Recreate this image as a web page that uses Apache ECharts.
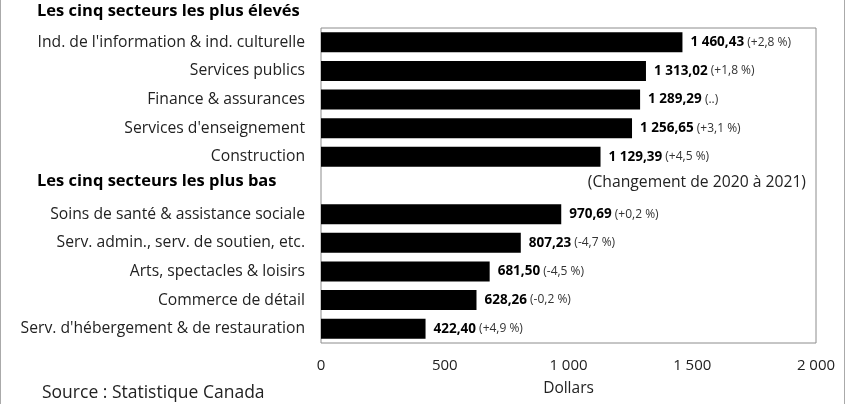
<!DOCTYPE html>
<html><head><meta charset="utf-8">
<script src="https://cdn.jsdelivr.net/npm/echarts@6/dist/echarts.min.js"></script>
<style>html,body{margin:0;padding:0;background:#fff;}#c{width:852px;height:404px;}</style>
</head><body><div id="c"></div>
<script>
var categories = [
  "Ind. de l'information & ind. culturelle",
  "Services publics",
  "Finance & assurances",
  "Services d'enseignement",
  "Construction",
  "",
  "Soins de santé & assistance sociale",
  "Serv. admin., serv. de soutien, etc.",
  "Arts, spectacles & loisirs",
  "Commerce de détail",
  "Serv. d'hébergement & de restauration"
];
var values = [1460.43, 1313.02, 1289.29, 1256.65, 1129.39, null, 970.69, 807.23, 681.50, 628.26, 422.40];
var changes = ["(+2,8 %)", "(+1,8 %)", "(..)", "(+3,1 %)", "(+4,5 %)", "", "(+0,2 %)", "(-4,7 %)", "(-4,5 %)", "(-0,2 %)", "(+4,9 %)"];
var xTicks = [0, 500, 1000, 1500, 2000];
var headerTop = "Les cinq secteurs les plus élevés";
var headerBottom = "Les cinq secteurs les plus bas";
var changeNote = "(Changement de 2020 à 2021)";
var axisName = "Dollars";
var sourceText = "Source : Statistique Canada";

function fmtNum(v, dec, sep) {
  var s = v.toFixed(dec);
  var parts = s.split('.');
  var ip = parts[0].replace(/\B(?=(\d{3})+(?!\d))/g, sep);
  return parts.length > 1 ? ip + ',' + parts[1] : ip;
}

var F = "'Open Sans', 'Noto Sans', sans-serif";
var chart = echarts.init(document.getElementById('c'));
chart.setOption({
  animation: false,
  textStyle: { fontFamily: F },
  grid: { left: 321, right: 36, top: 28, bottom: 61, show: true, borderColor: '#8c8c8c', borderWidth: 1, backgroundColor: 'transparent' },
  xAxis: {
    type: 'value', min: xTicks[0], max: xTicks[xTicks.length - 1], interval: 500,
    axisLine: { show: false }, axisTick: { show: false }, splitLine: { show: false },
    axisLabel: { color: '#222', fontSize: 15, margin: 15, fontFamily: F, formatter: function (v) { return fmtNum(v, 0, '\u00a0'); } },
    name: axisName, nameLocation: 'middle', nameGap: 38,
    nameTextStyle: { color: '#222', fontSize: 15.5, fontFamily: F }
  },
  yAxis: {
    type: 'category', data: categories, inverse: true,
    axisLine: { show: false }, axisTick: { show: false },
    axisLabel: { color: '#222', fontSize: 15.7, margin: 16, fontFamily: F }
  },
  series: [{
    type: 'bar', data: values, barWidth: 20,
    itemStyle: { color: '#000' },
    label: {
      show: true, position: 'right', distance: 8,
      formatter: function (p) {
        if (p.value == null) return '';
        return '{v|' + fmtNum(p.value, 2, ' ') + '} {c|' + changes[p.dataIndex] + '}';
      },
      rich: {
        v: { fontSize: 13.5, fontWeight: 'bold', color: '#000', fontFamily: F },
        c: { fontSize: 12, color: '#333', fontFamily: F }
      }
    }
  }],
  graphic: [
    { type: 'text', left: 37, top: 3, style: { text: headerTop, fontSize: 16.5, fontWeight: 'bold', fill: '#000', fontFamily: F } },
    { type: 'text', left: 37, top: 173, style: { text: headerBottom, fontSize: 16.5, fontWeight: 'bold', fill: '#000', fontFamily: F } },
    { type: 'text', right: 46, top: 175, style: { text: changeNote, fontSize: 15.7, fill: '#222', fontFamily: F } },
    { type: 'text', left: 42, top: 384, style: { text: sourceText, fontSize: 17.5, fill: '#222', fontFamily: F } },
    { type: 'line', shape: { x1: 0.5, y1: 0, x2: 0.5, y2: 404 }, style: { stroke: '#aaa', lineWidth: 1 } },
    { type: 'line', shape: { x1: 844.5, y1: 0, x2: 844.5, y2: 404 }, style: { stroke: '#aaa', lineWidth: 1 } }
  ]
});
</script></body></html>
